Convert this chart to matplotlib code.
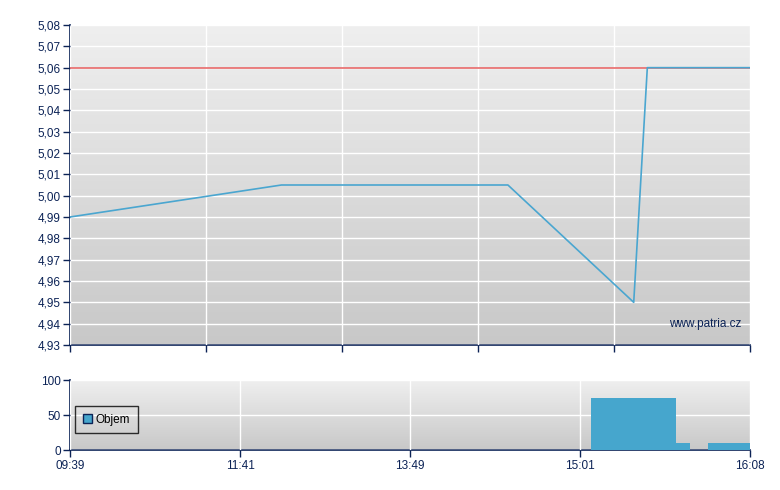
import numpy as np
import matplotlib.pyplot as plt
from matplotlib.patches import Patch

# x is position within the session (0-100 %), the chart axis is not linear in time
price_x = [0, 31.1, 64.4, 82.9, 84.9, 100]
price_y = [4.99, 5.005, 5.005, 4.95, 5.06, 5.06]
ref_price = 5.06

vol_left = [76.6, 89.1, 93.8]
vol_width = [12.5, 2.1, 6.2]
vol_height = [75, 10, 10]

time_pos = [0, 25, 50, 75, 100]
time_labels = ["09:39", "11:41", "13:49", "15:01", "16:08"]

navy = "#0c2356"
plt.rcParams['font.family'] = ['Liberation Sans', 'DejaVu Sans']
plt.rcParams['font.size'] = 8.5

fig = plt.figure(figsize=(7.8, 4.9), dpi=100)
ax = fig.add_axes([70/780, 1-345/490, 680/780, 320/490])
ax2 = fig.add_axes([70/780, 1-450/490, 680/780, 70/490])

def style(a, ymin, ymax):
    # gray gradient background
    grad = np.linspace(0, 1, 256).reshape(-1, 1)
    a.imshow(grad, extent=[0, 100, ymin, ymax], aspect='auto', origin='lower',
             cmap=plt.matplotlib.colors.LinearSegmentedColormap.from_list('g', ['#c8c8c8', '#efefef']),
             zorder=0)
    a.set_xlim(0, 100)
    a.set_ylim(ymin, ymax)
    for s in ['top', 'right']:
        a.spines[s].set_visible(False)
    for s in ['left', 'bottom']:
        a.spines[s].set_color(navy)
        a.spines[s].set_linewidth(1.2)
    a.tick_params(colors=navy, direction='out', length=5, width=1, labelcolor=navy, pad=1.5)
    a.grid(True, color='white', linewidth=1, zorder=1)
    a.set_axisbelow(False)

style(ax, 4.93, 5.08)
ax.set_yticks(np.arange(4.93, 5.0801, 0.01))
ax.set_yticklabels([("%.2f" % v).replace('.', ',') for v in np.arange(4.93, 5.0801, 0.01)])
ax.set_xticks([0, 20, 40, 60, 80, 100])
ax.set_xticklabels([])
ax.axhline(ref_price, color='#e86a6a', linewidth=1.2, zorder=3)
ax.plot(price_x, price_y, color='#4aa6d0', linewidth=1.2, zorder=4)
ax.text(98.8, 4.937, "www.patria.cz", color=navy, ha='right', va='bottom', fontsize=8.5, zorder=5)

style(ax2, 0, 100)
ax2.set_yticks([0, 50, 100])
ax2.set_xticks(time_pos)
ax2.set_xticklabels(time_labels)
ax2.tick_params(axis='x', pad=2)
ax2.bar(vol_left, vol_height, width=vol_width, align='edge', color='#46a6cd', zorder=3)
leg = ax2.legend(handles=[Patch(facecolor='#46a6cd', edgecolor=navy, label='Objem')],
                 loc='upper left', bbox_to_anchor=(5/680, 44/70), borderaxespad=0,
                 frameon=True, fancybox=False, handlelength=0.8, handleheight=0.8,
                 borderpad=0.65, handletextpad=0.3, fontsize=8.5)
leg.get_frame().set_edgecolor('black')
leg.get_frame().set_facecolor('none')
leg.get_frame().set_linewidth(1)

fig.savefig('out.png', dpi=100)
